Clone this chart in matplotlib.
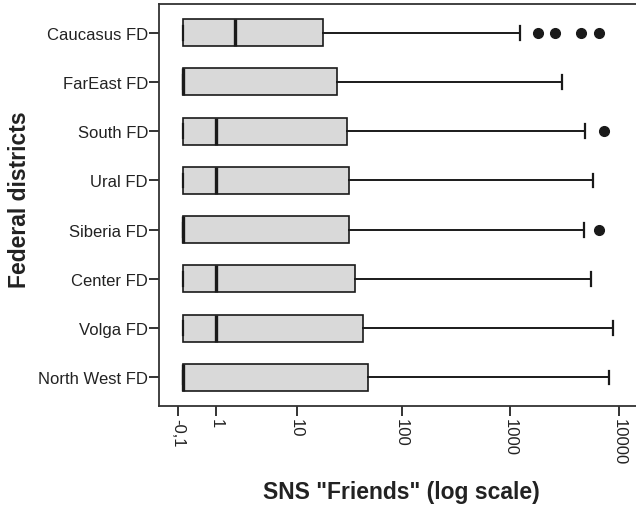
"""
Boxplot orizzontale: amici SNS per distretto federale (scala log(x+1)).
"""
import numpy as np
import matplotlib
matplotlib.use("Agg")
import matplotlib.pyplot as plt

plt.rcParams["font.family"] = ["Liberation Sans", "DejaVu Sans"]

distretti = ["Caucasus FD", "FarEast FD", "South FD", "Ural FD",
             "Siberia FD", "Center FD", "Volga FD", "North West FD"]
q1      = [0, 0, 0, 0, 0, 0, 0, 0]
mediana = [2, 0, 1, 1, 0, 1, 1, 0]
q3      = [18, 25, 31, 32, 32, 37, 44, 49]
wh_lo   = [0, 0, 0, 0, 0, 0, 0, 0]
wh_hi   = [1230, 2970, 4860, 5790, 4790, 5470, 8830, 8120]
outlier = [[1790, 2580, 4440, 6450], [], [7250], [], [6450], [], [], []]

tick_val = [-0.1, 1, 10, 100, 1000, 10000]
tick_lab = ["-0,1", "1", "10", "100", "1000", "10000"]

BOX_FACE = "#d9d9d9"
DARK = "#1a1a1a"


def fwd(x):
    return np.log10(np.clip(np.asarray(x, dtype=float) + 1, 1e-9, None))


def inv(y):
    return 10 ** np.asarray(y, dtype=float) - 1


fig = plt.figure(figsize=(6.36, 5.10), dpi=100)
ax = fig.add_axes([0.25, 0.202, 0.761, 0.788])
ax.set_xscale("function", functions=(fwd, inv))

stats = []
for i, nome in enumerate(distretti):
    stats.append({"label": nome, "q1": q1[i], "med": mediana[i], "q3": q3[i],
                  "whislo": wh_lo[i], "whishi": wh_hi[i], "fliers": outlier[i]})

pos = list(range(len(distretti), 0, -1))
ax.bxp(stats, positions=pos, orientation="horizontal", widths=0.55,
       patch_artist=True, capwidths=0.28,
       boxprops={"facecolor": BOX_FACE, "edgecolor": DARK, "linewidth": 1.2},
       medianprops={"color": DARK, "linewidth": 2.4},
       whiskerprops={"color": DARK, "linewidth": 1.4},
       capprops={"color": DARK, "linewidth": 1.6},
       flierprops={"marker": "o", "markerfacecolor": DARK,
                   "markeredgecolor": DARK, "markersize": 7})

ax.set_xlim(-0.4, 16500)
ax.set_ylim(0.42, len(distretti) + 0.58)
ax.set_yticks(pos)
ax.set_yticklabels(distretti, fontsize=12, color="#222222")
ax.set_xticks(tick_val)
ax.set_xticklabels(tick_lab, fontsize=12, rotation=270, color="#222222")
ax.minorticks_off()
ax.tick_params(axis="both", direction="out", length=7, width=1.4, color="#333333")
ax.tick_params(axis="y", pad=1)
ax.tick_params(axis="x", pad=1.5)

for s in ["left", "bottom", "top"]:
    ax.spines[s].set_color("#333333")
    ax.spines[s].set_linewidth(1.3)
ax.spines["right"].set_visible(False)

ax.set_xlabel('SNS "Friends" (log scale)', fontsize=16.5, fontweight="bold",
              color="#222222")
ax.set_ylabel("Federal districts", fontsize=16.5, fontweight="bold",
              color="#222222")
ax.xaxis.set_label_coords(0.5, -0.214)
ax.xaxis.label.set_va("center")
ax.yaxis.set_label_coords(-0.289, 0.515)
ax.yaxis.label.set_va("center")

fig.savefig("out.png", dpi=100)
